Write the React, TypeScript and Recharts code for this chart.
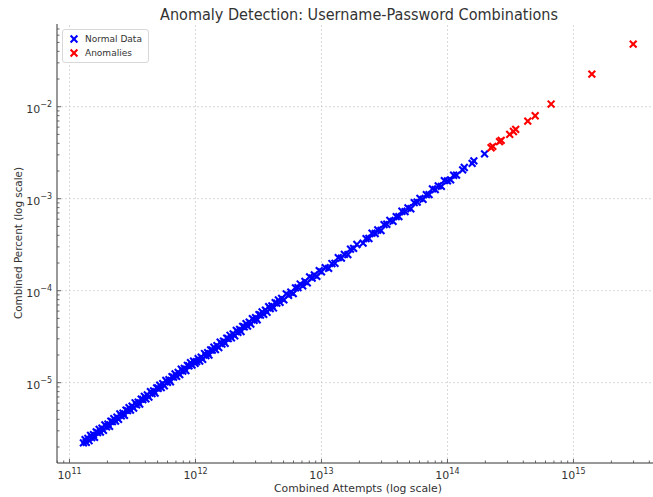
import React from 'react';
import {
  ScatterChart,
  Scatter,
  XAxis,
  YAxis,
  ReferenceLine,
} from 'recharts';

// [combined attempts, combined percent]
const normalPoints: [number, number][] = [
  [1.29e11, 2.22e-6], [1.33e11, 2.40e-6], [1.36e11, 2.25e-6], [1.40e11, 2.48e-6], [1.43e11, 2.34e-6],
  [1.47e11, 2.68e-6], [1.50e11, 2.53e-6], [1.55e11, 2.72e-6], [1.58e11, 2.55e-6], [1.63e11, 2.92e-6],
  [1.67e11, 2.87e-6], [1.72e11, 3.11e-6], [1.76e11, 2.91e-6], [1.81e11, 3.21e-6], [1.86e11, 3.04e-6],
  [1.91e11, 3.48e-6], [1.97e11, 3.32e-6], [2.02e11, 3.54e-6], [2.08e11, 3.36e-6], [2.13e11, 3.81e-6],
  [2.19e11, 3.77e-6], [2.25e11, 4.06e-6], [2.32e11, 3.83e-6], [2.38e11, 4.22e-6], [2.45e11, 4.00e-6],
  [2.51e11, 4.58e-6], [2.58e11, 4.35e-6], [2.66e11, 4.67e-6], [2.73e11, 4.41e-6], [2.81e11, 5.03e-6],
  [2.89e11, 4.97e-6], [2.97e11, 5.36e-6], [3.05e11, 5.04e-6], [3.14e11, 5.56e-6], [3.23e11, 5.28e-6],
  [3.32e11, 6.05e-6], [3.41e11, 5.75e-6], [3.51e11, 6.16e-6], [3.61e11, 5.84e-6], [3.71e11, 6.64e-6],
  [3.82e11, 6.57e-6], [3.93e11, 7.10e-6], [4.04e11, 6.67e-6], [4.15e11, 7.35e-6], [4.27e11, 6.98e-6],
  [4.39e11, 8.00e-6], [4.52e11, 7.62e-6], [4.65e11, 8.16e-6], [4.78e11, 7.73e-6], [4.92e11, 8.80e-6],
  [5.06e11, 8.70e-6], [5.20e11, 9.39e-6], [5.35e11, 8.83e-6], [5.50e11, 9.74e-6], [5.66e11, 9.25e-6],
  [5.82e11, 1.061e-5], [5.99e11, 1.010e-5], [6.16e11, 1.081e-5], [6.33e11, 1.024e-5], [6.51e11, 1.164e-5],
  [6.70e11, 1.152e-5], [6.89e11, 1.244e-5], [7.09e11, 1.171e-5], [7.29e11, 1.292e-5], [7.50e11, 1.226e-5],
  [7.71e11, 1.406e-5], [7.93e11, 1.337e-5], [8.16e11, 1.432e-5], [8.39e11, 1.356e-5], [8.63e11, 1.544e-5],
  [8.88e11, 1.527e-5], [9.13e11, 1.649e-5], [9.39e11, 1.550e-5], [9.66e11, 1.712e-5], [9.93e11, 1.623e-5],
  [1.02e12, 1.693e-5], [1.05e12, 1.830e-5], [1.08e12, 1.721e-5], [1.11e12, 1.898e-5], [1.14e12, 1.798e-5],
  [1.18e12, 2.076e-5], [1.21e12, 1.969e-5], [1.25e12, 2.117e-5], [1.28e12, 1.997e-5], [1.32e12, 2.279e-5],
  [1.36e12, 2.258e-5], [1.40e12, 2.440e-5], [1.44e12, 2.295e-5], [1.48e12, 2.531e-5], [1.53e12, 2.413e-5],
  [1.57e12, 2.762e-5], [1.62e12, 2.635e-5], [1.67e12, 2.828e-5], [1.72e12, 2.684e-5], [1.77e12, 3.056e-5],
  [1.82e12, 3.021e-5], [1.88e12, 3.277e-5], [1.93e12, 3.076e-5], [1.99e12, 3.402e-5], [2.05e12, 3.233e-5],
  [2.11e12, 3.713e-5], [2.17e12, 3.530e-5], [2.24e12, 3.793e-5], [2.30e12, 3.589e-5], [2.37e12, 4.091e-5],
  [2.44e12, 4.050e-5], [2.52e12, 4.392e-5], [2.59e12, 4.127e-5], [2.67e12, 4.565e-5], [2.75e12, 4.337e-5],
  [2.83e12, 4.980e-5], [2.92e12, 4.750e-5], [3.00e12, 5.080e-5], [3.09e12, 4.821e-5], [3.19e12, 5.507e-5],
  [3.28e12, 5.445e-5], [3.38e12, 5.892e-5], [3.48e12, 5.546e-5], [3.59e12, 6.138e-5], [3.70e12, 5.835e-5],
  [3.81e12, 6.705e-5], [3.92e12, 6.377e-5], [4.04e12, 6.840e-5], [4.16e12, 6.492e-5], [4.29e12, 7.406e-5],
  [4.42e12, 7.337e-5], [4.55e12, 7.931e-5], [4.69e12, 7.474e-5], [4.83e12, 8.259e-5], [5.03e12, 7.933e-5],
  [5.26e12, 9.256e-5], [5.48e12, 8.915e-5], [5.71e12, 9.668e-5], [5.97e12, 9.315e-5], [6.22e12, 1.074e-4],
  [6.51e12, 1.081e-4], [6.78e12, 1.182e-4], [7.10e12, 1.131e-4], [7.39e12, 1.264e-4], [7.72e12, 1.218e-4],
  [8.05e12, 1.416e-4], [8.43e12, 1.371e-4], [8.78e12, 1.487e-4], [9.19e12, 1.434e-4], [9.60e12, 1.657e-4],
  [1.00e13, 1.600e-4], [1.07e13, 1.780e-4], [1.14e13, 1.751e-4], [1.21e13, 1.975e-4], [1.28e13, 1.987e-4],
  [1.36e13, 2.285e-4], [1.44e13, 2.258e-4], [1.52e13, 2.481e-4], [1.62e13, 2.462e-4], [1.70e13, 2.829e-4],
  [1.80e13, 2.880e-4], [1.91e13, 3.178e-4], [2.14e13, 3.287e-4], [2.26e13, 3.688e-4], [2.38e13, 3.694e-4],
  [2.52e13, 4.234e-4], [2.67e13, 4.187e-4], [2.80e13, 4.570e-4], [2.97e13, 4.514e-4], [3.14e13, 5.225e-4],
  [3.30e13, 5.280e-4], [3.49e13, 5.807e-4], [3.70e13, 5.683e-4], [3.92e13, 6.397e-4], [4.12e13, 6.394e-4],
  [4.35e13, 7.308e-4], [4.61e13, 7.228e-4], [4.86e13, 7.932e-4], [5.12e13, 7.782e-4], [5.45e13, 9.069e-4],
  [5.75e13, 9.200e-4], [6.05e13, 1.007e-3], [6.40e13, 9.830e-4], [6.80e13, 1.110e-3], [7.15e13, 1.110e-3],
  [7.60e13, 1.277e-3], [8.00e13, 1.254e-3], [8.45e13, 1.379e-3], [8.95e13, 1.360e-3], [9.45e13, 1.572e-3],
  [1.00e14, 1.560e-3], [1.06e14, 1.604e-3], [1.12e14, 1.800e-3], [1.18e14, 1.804e-3], [1.32e14, 2.059e-3],
  [1.36e14, 2.185e-3], [1.57e14, 2.425e-3], [1.62e14, 2.578e-3], [1.97e14, 3.07e-3],
];

const anomalyPoints: [number, number][] = [
  [2.22e14, 3.58e-3], [2.29e14, 3.71e-3], [2.59e14, 4.17e-3], [2.67e14, 4.30e-3],
  [3.12e14, 5.0e-3], [3.34e14, 5.38e-3], [3.48e14, 5.66e-3], [4.34e14, 6.98e-3],
  [4.97e14, 7.98e-3], [6.65e14, 1.07e-2], [1.40e15, 2.26e-2], [2.98e15, 4.8e-2],
];

const xDomain: [number, number] = [7.96e10, 4.28e15];
const yDomain: [number, number] = [1.34e-6, 7.93e-2];
const xMajor = [1e11, 1e12, 1e13, 1e14, 1e15];
const yMajor = [1e-5, 1e-4, 1e-3, 1e-2];
const minorMantissas = [2, 3, 4, 5, 6, 7, 8, 9];

const FONT = '"DejaVu Sans", sans-serif';
const BLUE = '#0000ff';
const RED = '#ff0000';

const withMinors = (domain: [number, number]) => {
  const out: number[] = [];
  const lo = Math.floor(Math.log10(domain[0]));
  const hi = Math.ceil(Math.log10(domain[1]));
  for (let e = lo; e <= hi; e++) {
    const base = Math.pow(10, e);
    [1, ...minorMantissas].forEach((m) => {
      const v = Number((m * base).toPrecision(3));
      if (v >= domain[0] && v <= domain[1]) out.push(v);
    });
  }
  return out;
};

const isMajor = (v: number) => {
  const l = Math.log10(v);
  return Math.abs(l - Math.round(l)) < 1e-6;
};

const toPts = (rows: [number, number][]) => rows.map(([x, y]) => ({ x, y }));

const XMark = ({ cx, cy, color }: any) => {
  const s = 3.4;
  return (
    <path
      d={`M${cx - s},${cy - s}L${cx + s},${cy + s}M${cx - s},${cy + s}L${cx + s},${cy - s}`}
      stroke={color}
      strokeWidth={2.1}
      fill="none"
    />
  );
};

const XTick = ({ x, y, payload }: any) => {
  const major = isMajor(payload.value);
  const exp = Math.round(Math.log10(payload.value));
  return (
    <g>
      <line x1={x} x2={x} y1={y} y2={y - (major ? 4 : 2.5)} stroke="#555" strokeWidth={0.9} />
      {major && (
        <text x={x} y={y + 16} textAnchor="middle" fontSize={11} fill="#333" fontFamily={FONT}>
          10<tspan dy={-5} fontSize={8}>{exp}</tspan>
        </text>
      )}
    </g>
  );
};

const YTick = ({ x, y, payload }: any) => {
  const major = isMajor(payload.value);
  const exp = Math.round(Math.log10(payload.value));
  return (
    <g>
      <line x1={x} x2={x + (major ? 4 : 2.5)} y1={y} y2={y} stroke="#555" strokeWidth={0.9} />
      {major && (
        <text x={x - 5} y={y + 6} textAnchor="end" fontSize={11} fill="#333" fontFamily={FONT}>
          10<tspan dy={-6} fontSize={8}>{'\u2212' + Math.abs(exp)}</tspan>
        </text>
      )}
    </g>
  );
};

const legendItems = [
  { label: 'Normal Data', color: BLUE },
  { label: 'Anomalies', color: RED },
];

const ChartLegend = () => (
  <div
    style={{
      position: 'absolute',
      left: 62,
      top: 29,
      border: '1px solid #d8d8d8',
      borderRadius: 3,
      background: '#fff',
      padding: '2px 6px 2px 5px',
      fontFamily: FONT,
      fontSize: 9,
      color: '#333',
      lineHeight: '14px',
    }}
  >
    {legendItems.map((it) => (
      <div key={it.label} style={{ display: 'flex', alignItems: 'center' }}>
        <svg width={12} height={12} style={{ marginRight: 5 }}>
          <XMark cx={6} cy={6} color={it.color} />
        </svg>
        {it.label}
      </div>
    ))}
  </div>
);

export default function App() {
  const xTicks = withMinors(xDomain);
  const yTicks = withMinors(yDomain);
  return (
    <div style={{ position: 'absolute', left: 0, top: 0, width: 653, height: 497, background: '#fff' }}>
      <ScatterChart width={653} height={497} margin={{ top: 24, right: 0, bottom: 0, left: 0 }}>
        <XAxis
          type="number"
          dataKey="x"
          scale="log"
          domain={xDomain}
          allowDataOverflow
          ticks={xTicks}
          interval={0}
          tick={<XTick />}
          tickLine={false}
          tickSize={0}
          tickMargin={0}
          height={34}
          axisLine={{ stroke: '#777', strokeWidth: 1.5 }}
        />
        <YAxis
          type="number"
          dataKey="y"
          scale="log"
          domain={yDomain}
          allowDataOverflow
          ticks={yTicks}
          interval={0}
          tick={<YTick />}
          tickLine={false}
          tickSize={0}
          tickMargin={0}
          width={57}
          axisLine={{ stroke: '#777', strokeWidth: 1.5 }}
        />
        {xMajor.map((v) => (
          <ReferenceLine key={'gx' + v} x={v} stroke="#cfcfcf" strokeDasharray="2 2" strokeWidth={0.8} />
        ))}
        {yMajor.map((v) => (
          <ReferenceLine key={'gy' + v} y={v} stroke="#cfcfcf" strokeDasharray="2 2" strokeWidth={0.8} />
        ))}
        <Scatter
          name="Normal Data"
          data={toPts(normalPoints)}
          isAnimationActive={false}
          shape={(p: any) => <XMark cx={p.cx} cy={p.cy} color={BLUE} />}
        />
        <Scatter
          name="Anomalies"
          data={toPts(anomalyPoints)}
          isAnimationActive={false}
          shape={(p: any) => <XMark cx={p.cx} cy={p.cy} color={RED} />}
        />
      </ScatterChart>
      <ChartLegend />
      <svg
        width={653}
        height={497}
        style={{ position: 'absolute', left: 0, top: 0, pointerEvents: 'none' }}
      >
        <text x={359} y={20} textAnchor="middle" fontSize={15} fill="#333" fontFamily={FONT} textLength={398} lengthAdjust="spacingAndGlyphs">
          Anomaly Detection: Username-Password Combinations
        </text>
        <text x={358} y={492} textAnchor="middle" fontSize={11} fill="#333" fontFamily={FONT} textLength={168} lengthAdjust="spacingAndGlyphs">
          Combined Attempts (log scale)
        </text>
        <text
          x={0}
          y={0}
          transform="translate(22,243) rotate(-90)"
          textAnchor="middle"
          fontSize={11}
          fill="#333"
          fontFamily={FONT}
          textLength={152}
          lengthAdjust="spacingAndGlyphs"
        >
          Combined Percent (log scale)
        </text>
      </svg>
    </div>
  );
}
